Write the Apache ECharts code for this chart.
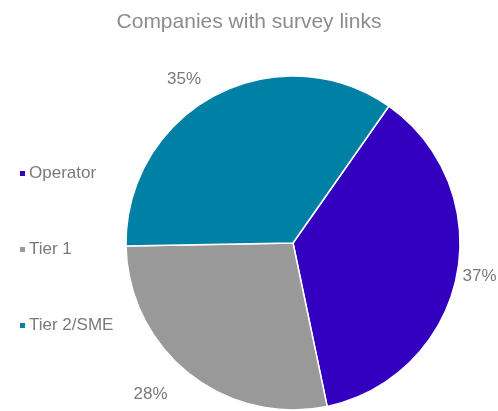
<!DOCTYPE html>
<html>
<head>
<meta charset="utf-8">
<style>
  html, body { margin: 0; padding: 0; background: #fff; }
  #chart { width: 498px; height: 411px; }
</style>
<script src="https://cdn.jsdelivr.net/npm/echarts@6/dist/echarts.min.js"></script>
</head>
<body>
<div id="chart"></div>
<script>
// Share of companies that received survey links, by company type
const categories = ['Operator', 'Tier 1', 'Tier 2/SME'];
const shares = [37, 28, 35];
const colors = ['#3300c0', '#999999', '#0080a4'];
// distance of each percentage label from the slice edge
const labelGaps = [1, 26, 18];

const chart = echarts.init(document.getElementById('chart'), null, { renderer: 'canvas' });

chart.setOption({
  animation: false,
  title: {
    text: 'Companies with survey links',
    left: 'center',
    top: 7,
    textStyle: {
      fontFamily: 'Liberation Sans, Arial, sans-serif',
      fontWeight: 'normal',
      fontSize: 21,
      color: '#8c8c8c'
    }
  },
  legend: {
    orient: 'vertical',
    left: 13,
    top: 160,
    itemGap: 59,
    itemWidth: 7,
    itemHeight: 7,
    icon: 'rect',
    textStyle: {
      fontFamily: 'Liberation Sans, Arial, sans-serif',
      fontSize: 17,
      color: '#7a7a7a',
      padding: [0, 0, 0, -2]
    },
    data: categories
  },
  series: [{
    type: 'pie',
    center: [293, 243],
    radius: 167,
    startAngle: 55,
    clockwise: true,
    itemStyle: { borderColor: '#ffffff', borderWidth: 1.5 },
    label: {
      show: true,
      position: 'outside',
      formatter: '{d}%',
      overflow: 'none',
      fontFamily: 'Liberation Sans, Arial, sans-serif',
      fontSize: 17,
      color: '#7a7a7a'
    },
    labelLine: { show: false, length: 18, length2: 0 },
    data: categories.map((name, i) => ({
      name: name,
      value: shares[i],
      itemStyle: { color: colors[i] },
      labelLine: { show: false, length: labelGaps[i], length2: 0 }
    }))
  }]
});
</script>
</body>
</html>
